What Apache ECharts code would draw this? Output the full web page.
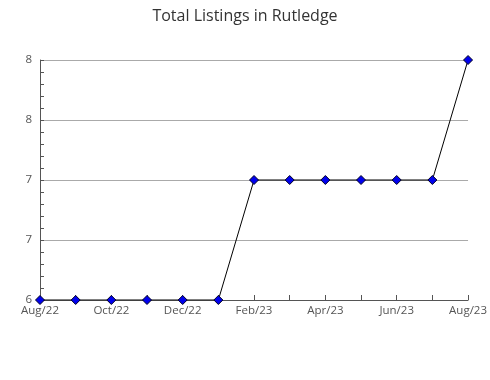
<!DOCTYPE html>
<html><head><meta charset="utf-8">
<script src="https://cdn.jsdelivr.net/npm/echarts@6/dist/echarts.min.js"></script>
<style>html,body{margin:0;padding:0;background:#fff}#c{width:490px;height:380px}</style>
</head><body><div id="c"></div>
<script>
var categories = ['Aug/22','Sep/22','Oct/22','Nov/22','Dec/22','Jan/23','Feb/23','Mar/23','Apr/23','May/23','Jun/23','Jul/23','Aug/23'];
var listings = [6,6,6,6,6,6,7,7,7,7,7,7,8];
var titleText = 'Total Listings in Rutledge';
var chart = echarts.init(document.getElementById('c'));
chart.setOption({
  animation:false,
  title:{text:titleText,left:'center',top:3,textStyle:{fontFamily:'Open Sans',fontWeight:'normal',fontSize:16,color:'#333'}},
  grid:{left:40,right:20,top:60,bottom:80},
  xAxis:{type:'category',data:categories,boundaryGap:false,
    axisLine:{lineStyle:{color:'#555'}},
    axisTick:{show:true,inside:true,length:5,interval:0,lineStyle:{color:'#555'}},
    axisLabel:{interval:1,color:'#555',fontFamily:'Open Sans',fontSize:11.5,margin:5},
    splitLine:{show:false}},
  yAxis:{type:'value',min:6,max:8,interval:0.5,
    axisLine:{show:true,lineStyle:{color:'#555'}},
    axisTick:{show:true,inside:true,length:4,lineStyle:{color:'#555'}},
    minorTick:{show:true,splitNumber:5,length:4,lineStyle:{color:'#555'}},
    axisLabel:{color:'#555',fontFamily:'Open Sans',fontSize:11.5,margin:8,formatter:function(v){return Math.round(v);}},
    splitLine:{show:true,lineStyle:{color:'#aaa'}}},
  series:[{type:'line',data:listings,symbol:'diamond',symbolSize:9,
    lineStyle:{color:'#000',width:1},
    itemStyle:{color:'#0000ee',borderColor:'#002',borderWidth:1}}]
});
</script></body></html>
